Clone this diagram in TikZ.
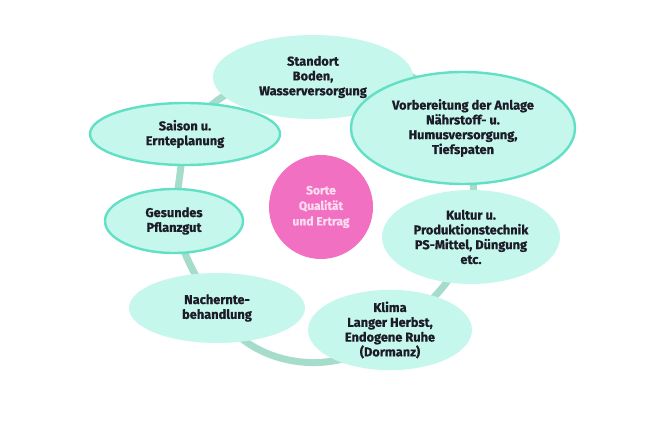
\documentclass[tikz,border=0pt]{standalone}
\usepackage{fontspec}
\setmainfont{Fira Sans}[BoldFeatures={FakeBold=0.8}]
\usetikzlibrary{shapes.geometric,backgrounds}
\definecolor{mintfill}{HTML}{C6F7EC}
\definecolor{mintline}{HTML}{62E0C6}
\definecolor{ringcol}{HTML}{A6DCCB}
\definecolor{pinkfill}{HTML}{F270C2}
\definecolor{pinktext}{HTML}{FCDDF0}
\definecolor{darktext}{HTML}{1C1C28}
\begin{document}
\begin{tikzpicture}[x=1pt,y=1pt,
  bub/.style={ellipse,fill=mintfill,inner sep=0pt,align=center,
    text=darktext,font=\bfseries\fontsize{12.8}{14.8}\selectfont},
  bubline/.style={bub,draw=mintline,line width=2.4pt},
  ring/.style={draw=ringcol,line width=7pt}]
\useasboundingbox (0,0) rectangle (646,429);
\node[bub,minimum width=200pt,minimum height=84pt] (standort) at (313,352)
  {Standort\\Boden,\\Wasserversorgung};
\node[bubline,minimum width=224pt,minimum height=112pt] (vorb) at (463,301)
  {Vorbereitung der Anlage\\N\"ahrstoff- u.\\Humusversorgung,\\Tiefspaten};
\node[bubline,minimum width=190pt,minimum height=62pt] (saison) at (185,295)
  {Saison u.\\Ernteplanung};
\node[bubline,minimum width=138pt,minimum height=64pt] (gesund) at (174,208)
  {Gesundes\\Pflanzgut};
\node[bub,minimum width=178pt,minimum height=94pt] (kultur) at (471,192)
  {Kultur u.\\Produktionstechnik\\PS-Mittel, D\"ungung\\etc.};
\node[bub,minimum width=176pt,minimum height=70pt] (nach) at (217,121)
  {Nachernte-\\behandlung};
\node[bub,minimum width=164pt,minimum height=76pt] (klima) at (390,99)
  {Klima\\Langer Herbst,\\Endogene Ruhe\\(Dormanz)};
\node[circle,fill=pinkfill,minimum size=104pt,inner sep=0pt,align=center,
  text=pinktext,font=\bfseries\fontsize{12}{15.5}\selectfont] (sorte) at (321,222)
  {Sorte\\Qualit\"at\\und Ertrag};
\begin{scope}[on background layer]
  \fill[white] (0,0) rectangle (646,429);
  \draw[ring] (standort.center) to[bend left=45] (vorb.center);
  \draw[ring] (vorb.center) to[bend left=11] (kultur.center);
  \draw[ring] (kultur.center) to[bend left=19] (klima.center);
  \draw[ring] (klima.center) to[bend left=57] (nach.center);
  \draw[ring] (nach.center) to[bend left=10] (gesund.center);
  \draw[ring] (gesund.center) -- (saison.center);
  \draw[ring] (saison.center) to[bend left=30] (standort.center);
\end{scope}
\end{tikzpicture}
\end{document}
